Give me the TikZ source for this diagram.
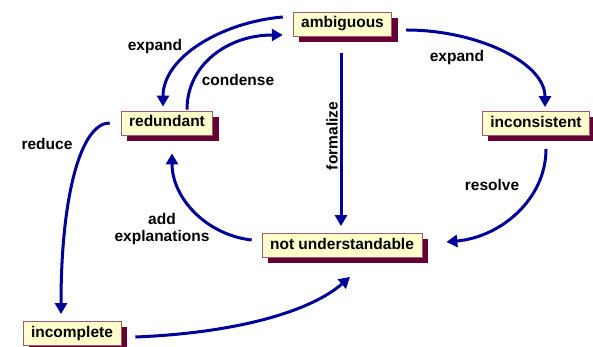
\documentclass[tikz,border=0pt]{standalone}
\usepackage{fontspec}
\setmainfont{Liberation Sans}
\usetikzlibrary{arrows.meta,shadows,calc}
\definecolor{arrowc}{RGB}{0,0,153}
\definecolor{boxfill}{RGB}{255,255,204}
\definecolor{boxdraw}{RGB}{160,90,120}
\definecolor{shadowc}{RGB}{102,0,51}
\tikzset{
  state/.style={draw=boxdraw, line width=0.8pt, fill=boxfill,
    font=\fontsize{15.5}{18}\selectfont\bfseries,
    inner xsep=8pt, inner ysep=0pt, minimum height=24pt,
    text height=11.5pt, text depth=3.5pt,
    drop shadow={shadow xshift=6pt, shadow yshift=-6pt, fill=shadowc, opacity=1}},
  lbl/.style={font=\fontsize{15.5}{17}\selectfont\bfseries, inner sep=0pt},
  conn/.style={draw=arrowc, line width=3pt, -{Triangle[length=11pt,width=12pt]}}
}
\begin{document}
\begin{tikzpicture}[x=1pt,y=1pt]
\useasboundingbox (0,0) rectangle (593,347);
\node[state] (amb) at (342.5,323) {ambiguous};
\node[state] (red) at (167,224) {redundant};
\node[state] (inc) at (536,223.5) {inconsistent};
\node[state] (nu) at (342,101.5) {not understandable};
\node[state] (icp) at (72,13.5) {incomplete};

% expand (left)
\draw[conn] ($(amb.west)+(-10,7)$) .. controls +(-60,-5) and +(0,50) .. ($(red.north)+(-4,4)$);
% condense
\draw[conn] ($(red.north)+(20,1)$) .. controls +(0,45) and +(-55,0) .. ($(amb.west)+(-10,-11)$);
% expand (right)
\draw[conn] ($(amb.east)+(14,-6)$) .. controls +(70,0) and +(0,45) .. ($(inc.north)+(9,4)$);
% formalize
\draw[conn] ($(amb.south)+(-1.5,-17)$) -- ($(nu.north)+(-1,7)$);
% resolve
\draw[conn] ($(inc.south)+(10,-13)$) .. controls +(0,-50) and +(55,5) .. ($(nu.east)+(24,3.5)$);
% add explanations
\draw[conn] ($(nu.west)+(-10,5.5)$) .. controls +(-45,5) and +(0,-45) .. ($(red.south)+(5,-18)$);
% reduce
\draw[conn] ($(red.west)+(-11,0)$) .. controls +(-29,0) and +(0,118) .. ($(icp.north)+(-11,7)$);
% incomplete -> not understandable
\draw[conn] ($(icp.east)+(14,-3.5)$) .. controls +(100,4) and +(-40,-35) .. ($(nu.south)+(8,-19)$);

\node[lbl] (l1) at (155,301) {expand};
\node[lbl] (l2) at (238,267) {condense};
\node[lbl] (l3) at (457,290) {expand};
\node[lbl, rotate=90] (l4) at (332,211) {formalize};
\node[lbl] (l5) at (47,203) {reduce};
\node[lbl] (l6) at (492,162) {resolve};
\node[lbl, align=center] (l7) at (162,118) {add\\explanations};
\end{tikzpicture}
\end{document}
